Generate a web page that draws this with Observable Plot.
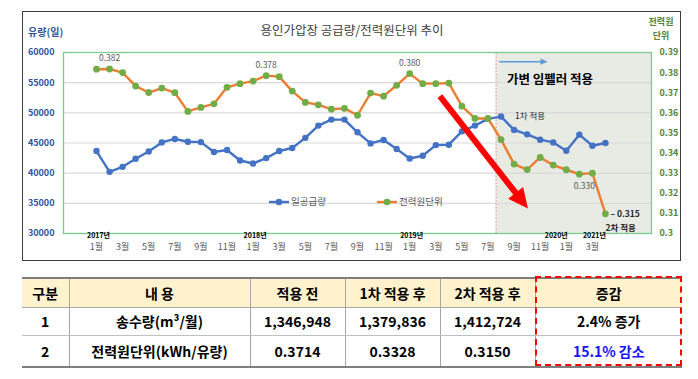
<!DOCTYPE html>
<html><head><meta charset="utf-8">
<script src="https://cdn.jsdelivr.net/npm/d3@7"></script>
<script src="https://cdn.jsdelivr.net/npm/@observablehq/plot@0.6"></script>
<style>
body{margin:0;width:698px;height:379px;position:relative;background:#fff;overflow:hidden;font-family:"Noto Sans CJK KR","Noto Sans",sans-serif}
#chart{position:absolute;left:0;top:0}
#box{position:absolute;left:22px;top:11px;width:657px;height:248px;border:1.5px solid #3c3c3c;pointer-events:none}
#tbl{position:absolute;left:22px;top:277px;width:660px;border-collapse:collapse;table-layout:fixed;font:bold 14px "Noto Sans CJK KR",sans-serif;color:#000}
#tbl th,#tbl td{padding:0;text-align:center;line-height:1;border-left:1px solid #A6A6A6}
#tbl th:first-child,#tbl td:first-child{border-left:none}
#tbl thead tr{height:29px;background:#FFF2CC}
#tbl thead th{border-top:2px solid #7F7F7F;border-bottom:1px solid #A6A6A6;font-weight:bold}
#tbl tbody tr.r1{height:28px}
#tbl tbody tr.r2{height:32px}
#tbl tbody tr.r1 td{border-bottom:1px solid #BFBFBF}
#tbl tbody tr.r2 td{border-bottom:2px solid #7F7F7F}
#redbox{position:absolute;left:535px;top:276px;width:143px;height:86px;border:2px dashed #FF0000;pointer-events:none}
</style></head><body>
<div id="chart"></div>
<div id="box"></div>
<table id="tbl"><colgroup></colgroup><thead><tr></tr></thead><tbody></tbody></table>
<div id="redbox"></div>
<script>
// ---- data ----
const supply = [43670, 40220, 41050, 42380, 43600, 45100, 45670, 45200, 45150, 43500,
  43830, 42100, 41600, 42500, 43670, 44170, 45850, 47880, 48880, 48880,
  46770, 44930, 45500, 44000, 42430, 42880, 44650, 44720, 46930, 47880,
  49000, 49380, 47170, 46430, 45550, 45100, 43720, 46380, 44550, 45000];
const power = [0.3817, 0.3818, 0.3800, 0.3733, 0.3701, 0.3723, 0.3700, 0.3607, 0.3627, 0.3645,
  0.3727, 0.3745, 0.3758, 0.3785, 0.3780, 0.3708, 0.3652, 0.3640, 0.3618, 0.3622,
  0.3588, 0.3698, 0.3683, 0.3737, 0.3795, 0.3745, 0.3745, 0.3748, 0.3633, 0.3572,
  0.3572, 0.3467, 0.3345, 0.3318, 0.3378, 0.3340, 0.3317, 0.3295, 0.3300, 0.3098];
const monthLabels = ["1월","3월","5월","7월","9월","11월","1월","3월","5월","7월",
  "9월","11월","1월","3월","5월","7월","9월","11월","1월","3월"];
const yearLabels = [{i:0,t:"2017년"},{i:12,t:"2018년"},{i:24,t:"2019년"},{i:36,t:"2020년"},{i:38,t:"2021년"}];
const leftTicks = [30000,35000,40000,45000,50000,55000,60000];
const rightTicks = [0.30,0.31,0.32,0.33,0.34,0.35,0.36,0.37,0.38,0.39];
const topLabels = [{i:1,t:"0.382"},{i:13,t:"0.378"},{i:24,t:"0.380"}];
const label330 = [{i:38,t:"0.330"}];
const label315 = [{i:39,t:"0.315"}];
const applyStart = 30.62;   // start of 가변 임펠러 적용 period (index units)
const seriesNames = ["일공급량","전력원단위"];
const tableHeader = ["구분","내 용","적용 전","1차 적용 후","2차 적용 후","증감"];
const tableRows = [
  ["1","송수량(m³/월)","1,346,948","1,379,836","1,412,724","2.4% 증가"],
  ["2","전력원단위(kWh/유량)","0.3714","0.3328","0.3150","15.1% 감소"]
];
const colWidths = [47,181,95,95,95,147];

// ---- scales ----
const FONT = '"Noto Sans CJK KR","Noto Sans",sans-serif';
const toL = r => 30000 + (r - 0.30) / 0.09 * 30000;
const fromL = v => 0.30 + (v - 30000) / 30000 * 0.09;
const data = supply.map((s, i) => ({i, supply: s, power: power[i], powerL: toL(power[i])}));
const monthTicks = monthLabels.map((t, k) => ({i: k * 2, t}));
const xDom = [-2.53, 42.53];

const chart = Plot.plot({
  width: 698, height: 268,
  marginLeft: 63, marginRight: 47, marginTop: 52, marginBottom: 35,
  x: {domain: xDom, axis: null},
  y: {domain: [30000, 60000], axis: null, label: null},
  style: {background: "transparent", fontFamily: FONT, overflow: "visible"},
  marks: [
    Plot.rect([0], {x1: () => applyStart, x2: () => xDom[1], y1: () => 30000, y2: () => 60000, fill: "#E8EBE4"}),
    Plot.ruleY(leftTicks.slice(1, -1), {stroke: "#D9D9D9", strokeWidth: 1.2}),
    Plot.ruleX([applyStart], {y1: 30000, y2: 60000, stroke: "#F08C8C", strokeWidth: 1, strokeDasharray: "1.5,2"}),
    Plot.frame({stroke: "#7ACC8E", strokeWidth: 1.3}),
    Plot.axisY(leftTicks, {anchor: "left", tickSize: 0, tickPadding: 9, label: null, tickFormat: d => String(d),
      fontSize: 9, fontWeight: "bold", color: "#2F5597"}),
    Plot.axisY(rightTicks.map(toL), {anchor: "right", tickSize: 0, tickPadding: 8, label: null,
      tickFormat: d => String(+fromL(d).toFixed(2)), fontSize: 9, fontWeight: "bold", color: "#548235"}),
    Plot.text(monthTicks, {x: "i", text: "t", frameAnchor: "bottom", dy: 16, fontSize: 9, fill: "#595959"}),
    Plot.text(yearLabels.filter(d => d.i !== 36), {x: "i", text: "t", frameAnchor: "bottom", dy: 4.5, dx: 2, fontSize: 7, fontWeight: "bold", fill: "#000"}),
    Plot.text(yearLabels.filter(d => d.i === 36), {x: "i", text: "t", frameAnchor: "bottom", dy: 4.5, dx: -10, fontSize: 7, fontWeight: "bold", fill: "#000"}),
    Plot.line(data, {x: "i", y: "supply", stroke: "#4472C4", strokeWidth: 2.4}),
    Plot.dot(data, {x: "i", y: "supply", r: 3.2, fill: "#4472C4"}),
    Plot.line(data, {x: "i", y: "powerL", stroke: "#ED7D31", strokeWidth: 2.4}),
    Plot.dot(data, {x: "i", y: "powerL", r: 3.4, fill: "#70AD47"}),
    Plot.text(topLabels, {x: "i", y: d => toL(power[d.i]), text: "t", dy: -10.5, fontSize: 8.5, fill: "#595959"}),
    Plot.text(label330, {x: "i", y: d => toL(power[d.i]), text: "t", dy: 13, dx: -8, fontSize: 8.5, fill: "#595959"}),
    Plot.text(label315, {x: "i", y: d => toL(power[d.i]), text: d => "– " + d.t, dx: 5, textAnchor: "start", fontSize: 8.5, fontWeight: "bold", fill: "#262626"}),
    Plot.text(["1차 적용"], {x: () => 31, y: () => supply[31], text: d => d, dx: 14, dy: 0, textAnchor: "start", fontSize: 8.5, fill: "#262626"}),
    Plot.text(["2차 적용"], {x: () => 39, y: () => toL(power[39]), text: d => d, dx: 0, dy: 14.5, textAnchor: "start", fontSize: 8.5, fontWeight: "bold", fill: "#262626"}),
    Plot.text(["가변 임펠러 적용"], {x: () => 31.45, y: () => 55400, text: d => d, textAnchor: "start", fontSize: 12.5, fontWeight: "bold", fill: "#000"})
  ]
});
document.getElementById("chart").appendChild(chart);

// ---- annotations drawn with the plot's scales ----
const svg = d3.select(chart);
const sx = chart.scale("x").apply, sy = chart.scale("y").apply;
function arrow(x1, y1, x2, y2, color, w, hl, hw) {
  const dx = x2 - x1, dy = y2 - y1, L = Math.hypot(dx, dy), ux = dx / L, uy = dy / L;
  const bx = x2 - ux * hl, by = y2 - uy * hl;
  svg.append("line").attr("x1", x1).attr("y1", y1).attr("x2", x2 - ux * hl * 0.8).attr("y2", y2 - uy * hl * 0.8)
    .attr("stroke", color).attr("stroke-width", w);
  svg.append("polygon").attr("fill", color)
    .attr("points", [[x2, y2], [bx - uy * hw, by + ux * hw], [bx + uy * hw, by - ux * hw]].map(p => p.join(",")).join(" "));
}
arrow(sx(30.9), sy(58400), sx(34.6), sy(58400), "#5B9BD5", 1.5, 7, 3.2);
arrow(sx(26.35), sy(52700), sx(33.1), sy(34050), "#FF0000", 6, 20, 9.5);

// legend
const legY = 202;
[[269, "#4472C4", "#4472C4", seriesNames[0]], [377, "#ED7D31", "#70AD47", seriesNames[1]]].forEach(([lx, lc, dc, name]) => {
  svg.append("line").attr("x1", lx).attr("x2", lx + 20).attr("y1", legY).attr("y2", legY).attr("stroke", lc).attr("stroke-width", 2.4);
  svg.append("circle").attr("cx", lx + 10).attr("cy", legY).attr("r", 3.3).attr("fill", dc);
  svg.append("text").attr("x", lx + 22).attr("y", legY).attr("dy", "0.35em").attr("text-anchor", "start").attr("font-size", 9.5)
    .attr("fill", "#595959").attr("font-family", FONT).text(name);
});
// titles
svg.append("text").attr("x", 352).attr("y", 31).attr("dy", "0.35em").attr("text-anchor", "middle")
  .attr("font-size", 12.5).attr("fill", "#404040").attr("font-family", FONT).text("용인가압장 공급량/전력원단위 추이");
svg.append("text").attr("x", 28).attr("y", 32).attr("dy", "0.35em").attr("text-anchor", "start").attr("font-size", 10).attr("font-weight", "bold")
  .attr("fill", "#2F5597").attr("font-family", FONT).text("유량(일)");
["전력원", "단위"].forEach((t, k) => svg.append("text").attr("x", 661).attr("y", 22 + k * 13.5).attr("dy", "0.35em")
  .attr("text-anchor", "middle").attr("font-size", 9).attr("font-weight", "bold").attr("fill", "#548235")
  .attr("font-family", FONT).text(t));

// ---- table ----
const tbl = d3.select("#tbl");
tbl.select("colgroup").selectAll("col").data(colWidths).join("col").style("width", d => d + "px");
tbl.select("thead tr").selectAll("th").data(tableHeader).join("th").text(d => d);
tbl.select("tbody").selectAll("tr").data(tableRows).join("tr").attr("class", (d, i) => "r" + (i + 1))
  .selectAll("td").data(d => d).join("td").text(d => d)
  .style("color", d => d.includes("감소") ? "#1414FF" : null);
</script>
</body></html>
